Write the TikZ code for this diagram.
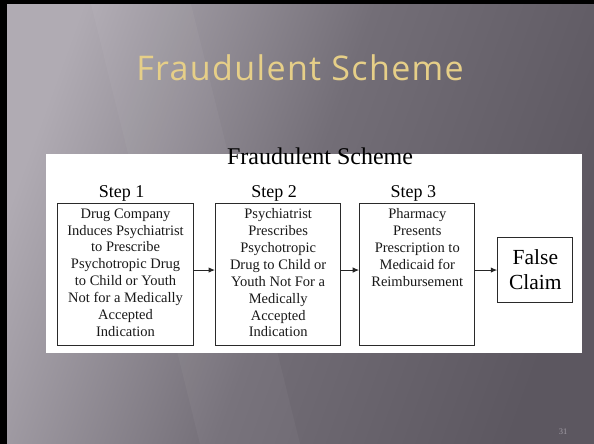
\documentclass[tikz,border=0pt]{standalone}
\usepackage{fontspec}
\setmainfont{Liberation Serif}
\newfontfamily\titlefont[LetterSpace=4]{Open Sans}
\usetikzlibrary{arrows.meta,positioning,calc}
\definecolor{bgdark}{HTML}{5C5760}
\definecolor{bgmid}{HTML}{736E77}
\definecolor{bglight}{HTML}{B0ABB3}
\definecolor{titlegold}{HTML}{E6CF88}
\definecolor{boxline}{HTML}{2A2A2A}
\definecolor{pagegray}{HTML}{A29DA6}
\newcommand{\steptext}[2]{\parbox[c][132pt][t]{#1}{\centering #2}}

\begin{document}
\begin{tikzpicture}[x=1pt,y=-1pt,
   stepbox/.style={draw=boxline,line width=1.1pt,fill=white,inner xsep=4pt,inner ysep=5pt,
                   font=\fontsize{14.5}{16.9}\selectfont,text=black!90},
   steplabel/.style={font=\fontsize{18}{20}\selectfont,inner sep=1pt,xshift=-4pt},
   flow/.style={-{Latex[length=6.5pt,width=5.5pt]},line width=1.1pt,draw=black!85}]
   \useasboundingbox (0,0) rectangle (594,444);
   \shade[top color=bglight,bottom color=bgdark,middle color=bgmid,shading angle=70] (0,0) rectangle (594,444);
   \fill[white,opacity=0.04] (90,0) -- (190,0) -- (300,444) -- (200,444) -- cycle;
   \fill[black] (0,0) rectangle (7,444);
   \fill[black] (0,0) rectangle (594,4);
   \node[font=\titlefont\fontsize{34}{38}\selectfont,text=titlegold,anchor=base] (title) at (300,81) {Fraudulent Scheme};
   \fill[white] (46,154) rectangle (582,353);
   \node[font=\fontsize{24}{28}\selectfont,anchor=base] (scheme) at (320,164) {Fraudulent Scheme};
   \node[stepbox,anchor=north west] (s1) at (57,203) {\steptext{128pt}{Drug Company\\Induces Psychiatrist\\to Prescribe\\Psychotropic Drug\\to Child or Youth\\Not for a Medically\\Accepted\\Indication}};
   \node[stepbox] (s2) [right=21pt of s1] {\steptext{117pt}{Psychiatrist\\Prescribes\\Psychotropic\\Drug to Child or\\Youth Not For a\\Medically\\Accepted\\Indication}};
   \node[stepbox] (s3) [right=18pt of s2] {\steptext{107pt}{Pharmacy\\Presents\\Prescription to\\Medicaid for\\Reimbursement}};
   \node[draw=boxline,line width=1.1pt,font=\fontsize{21.5}{25}\selectfont,align=center,
         minimum width=75pt,minimum height=65pt,yshift=4.5pt] (fc) [right=22pt of s3] {False\\Claim};
   \node[steplabel] (l1) [above=0pt of s1] {Step 1};
   \node[steplabel] (l2) [above=0pt of s2] {Step 2};
   \node[steplabel] (l3) [above=0pt of s3] {Step 3};
   \draw[flow] (s1.east |- fc.west) -- (s2.west |- fc.west);
   \draw[flow] (s2.east |- fc.west) -- (s3.west |- fc.west);
   \draw[flow] (s3.east |- fc.west) -- (fc.west);
   \node[font=\fontsize{8.5}{9}\selectfont,text=pagegray] (page) at (563,432) {31};
\end{tikzpicture}
\end{document}
